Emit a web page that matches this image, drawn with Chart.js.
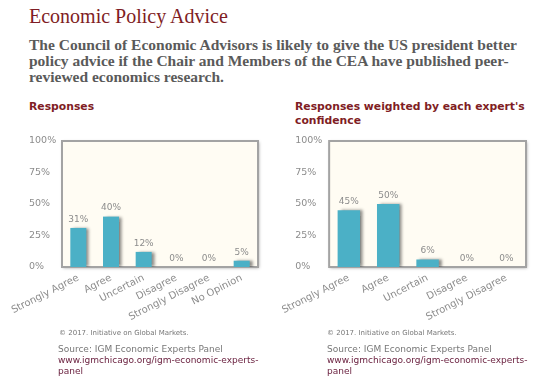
<!DOCTYPE html>
<html>
<head>
<meta charset="utf-8">
<script src="https://cdn.jsdelivr.net/npm/chart.js@4.4.1/dist/chart.umd.min.js"></script>
<style>
  body { margin: 0; background: #fff; width: 545px; height: 386px; position: relative; overflow: hidden; }
  h1 { position: absolute; left: 29px; top: 5px; margin: 0; font: normal 20px "Liberation Serif", Georgia, serif; color: #7f1d24; white-space: nowrap; }
  .q { position: absolute; left: 29px; top: 37px; margin: 0; font: bold 15.5px/16px "Liberation Serif", Georgia, serif; color: #5a5a5a; white-space: nowrap; }
  .ct { position: absolute; margin: 0; font: bold 10.8px/14px "DejaVu Sans", Verdana, sans-serif; color: #7f1d24; white-space: nowrap; }
  .cv { position: absolute; top: 130px; }
  .foot { position: absolute; font-family: "DejaVu Sans", Verdana, sans-serif; color: #777; }
  .copy { font-size: 7px; }
  .src { font-size: 9px; line-height: 11px; width: 215px; }
  .src a { color: #6b2240; text-decoration: none; }
</style>
</head>
<body>
<h1>Economic Policy Advice</h1>
<p class="q">The Council of Economic Advisors is likely to give the US president better<br>policy advice if the Chair and Members of the CEA have published peer-<br>reviewed economics research.</p>

<p class="ct" style="left:29px;top:100px;">Responses</p>
<p class="ct" style="left:295px;top:100px;">Responses weighted by each expert's<br>confidence</p>

<canvas id="c1" class="cv" style="left:0px" width="272" height="200"></canvas>
<canvas id="c2" class="cv" style="left:272px" width="273" height="200"></canvas>

<div class="foot copy" style="left:59px;top:329px;">© 2017. Initiative on Global Markets.</div>
<div class="foot src" style="left:58px;top:344px;">Source: IGM Economic Experts Panel<br><a>www.igmchicago.org/igm-economic-experts-panel</a></div>
<div class="foot copy" style="left:327px;top:329px;">© 2017. Initiative on Global Markets.</div>
<div class="foot src" style="left:327px;top:344px;">Source: IGM Economic Experts Panel<br><a>www.igmchicago.org/igm-economic-experts-panel</a></div>

<script>
const responseLabels = ['Strongly Agree', 'Agree', 'Uncertain', 'Disagree', 'Strongly Disagree', 'No Opinion'];
const responseValues = [31, 40, 12, 0, 0, 5];
const weightedLabels = ['Strongly Agree', 'Agree', 'Uncertain', 'Disagree', 'Strongly Disagree'];
const weightedValues = [45, 50, 6, 0, 0];
const yTicks = [0, 25, 50, 75, 100];

const barColor = '#4bb0c6';
const grey = '#8c8c8c';

// cream plot box with a grey border and soft shadow
const boxPlugin = {
  id: 'box',
  beforeDatasetsDraw(chart) {
    const {ctx, chartArea: a} = chart;
    ctx.save();
    ctx.shadowColor = 'rgba(0,0,0,0.35)';
    ctx.shadowBlur = 3;
    ctx.shadowOffsetX = 1;
    ctx.shadowOffsetY = 1;
    ctx.fillStyle = '#fffcf3';
    ctx.fillRect(a.left, a.top, a.right - a.left, a.bottom - a.top);
    ctx.restore();
    ctx.save();
    ctx.strokeStyle = '#a3a3a3';
    ctx.lineWidth = 2;
    ctx.strokeRect(a.left, a.top, a.right - a.left, a.bottom - a.top);
    ctx.restore();
    // bar shadows
    ctx.save();
    ctx.shadowColor = 'rgba(0,0,0,0.45)';
    ctx.shadowBlur = 3;
    ctx.shadowOffsetX = 3;
    ctx.shadowOffsetY = 0;
  },
  afterDatasetsDraw(chart) {
    const {ctx} = chart;
    ctx.restore();
    const meta = chart.getDatasetMeta(0);
    ctx.save();
    ctx.fillStyle = grey;
    ctx.font = '9px "DejaVu Sans", Verdana, sans-serif';
    ctx.textAlign = 'center';
    ctx.textBaseline = 'bottom';
    meta.data.forEach((bar, i) => {
      ctx.fillText(chart.data.datasets[0].data[i] + '%', bar.x, bar.y - 4);
    });
    ctx.restore();
  }
};

function makeChart(id, labels, values, padLeft, axisW, padRight, barPct) {
  return new Chart(document.getElementById(id), {
    type: 'bar',
    data: {
      labels: labels,
      datasets: [{
        data: values,
        backgroundColor: barColor,
        borderWidth: 0,
        barPercentage: barPct,
        categoryPercentage: 1
      }]
    },
    options: {
      responsive: false,
      animation: false,
      layout: { padding: { left: padLeft, right: padRight, top: 11, bottom: 0 } },
      plugins: { legend: { display: false }, tooltip: { enabled: false } },
      scales: {
        x: {
          grid: { display: false, drawTicks: false },
          border: { display: false },
          ticks: {
            color: grey,
            font: { size: 10, family: '"DejaVu Sans", Verdana, sans-serif' },
            minRotation: 27,
            maxRotation: 27,
            padding: 5,
            autoSkip: false
          },
          afterFit(s) { s.height = 63; }
        },
        y: {
          min: 0,
          max: 100,
          afterBuildTicks(s) { s.ticks = yTicks.map(v => ({value: v})); },
          grid: { display: false, drawTicks: false },
          border: { display: false },
          ticks: {
            color: grey,
            crossAlign: 'far',
            font: { size: 9.5, family: '"DejaVu Sans", Verdana, sans-serif' },
            callback: v => v + '%'
          },
          afterFit(s) { s.width = axisW; }
        }
      }
    },
    plugins: [boxPlugin]
  });
}

makeChart('c1', responseLabels, responseValues, 29, 33, 14, 0.49);
makeChart('c2', weightedLabels, weightedValues, 23, 34, 19, 0.57);
</script>
</body>
</html>
